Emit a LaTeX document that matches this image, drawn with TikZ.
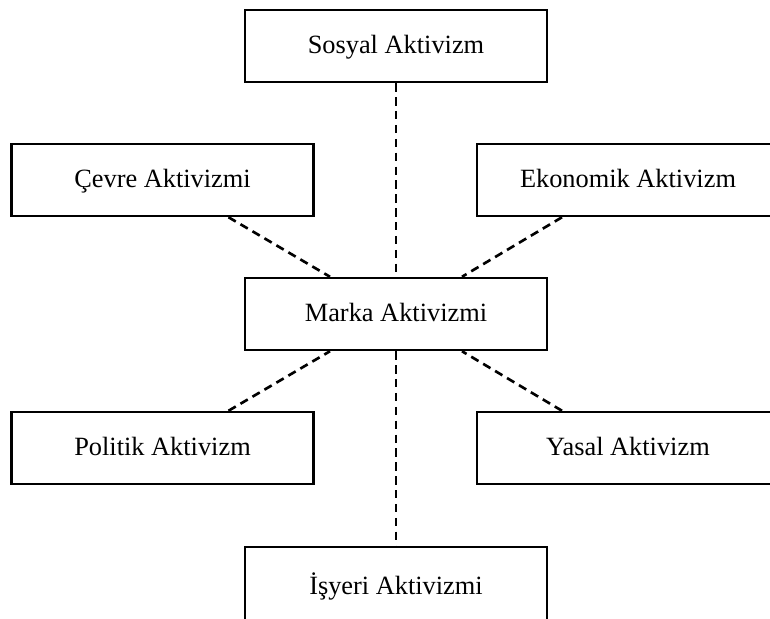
\documentclass[tikz,border=0pt]{standalone}
\usepackage{fontspec}
\setmainfont{Liberation Serif}
\begin{document}
\begin{tikzpicture}[
  box/.style={draw, fill=white, line width=1.4pt, minimum width=6.04cm,
    minimum height=1.44cm, inner sep=0pt, text height=1.1em, text depth=0.2em,
    font=\fontsize{15pt}{18pt}\selectfont},
  link/.style={line width=1.5pt, dash pattern=on 4.8pt off 3.1pt}]
  \useasboundingbox (0,0) rectangle (15.4,-12.38);
  \node[box] (mk) at (7.92,-6.28) {Marka Aktivizmi};
  \node[box] (sa) at (7.92,-0.92) {Sosyal Aktivizm};
  \node[box] (ca) at (3.25,-3.6) {Çevre Aktivizmi};
  \node[box] (ea) at (12.56,-3.6) {Ekonomik Aktivizm};
  \node[box] (pa) at (3.25,-8.96) {Politik Aktivizm};
  \node[box] (ya) at (12.56,-8.96) {Yasal Aktivizm};
  \node[box, minimum height=1.6cm, yshift=0.08cm] (ia) at (7.92,-11.82) {İşyeri Aktivizmi};
  \draw[link] (sa) -- (mk);
  \draw[link] (mk) -- (ia);
  \draw[link] ([xshift=1.32cm]ca.south) -- ([xshift=-1.32cm]mk.north);
  \draw[link] ([xshift=-1.32cm]ea.south) -- ([xshift=1.32cm]mk.north);
  \draw[link] ([xshift=1.32cm]pa.north) -- ([xshift=-1.32cm]mk.south);
  \draw[link] ([xshift=-1.32cm]ya.north) -- ([xshift=1.32cm]mk.south);
\end{tikzpicture}
\end{document}
